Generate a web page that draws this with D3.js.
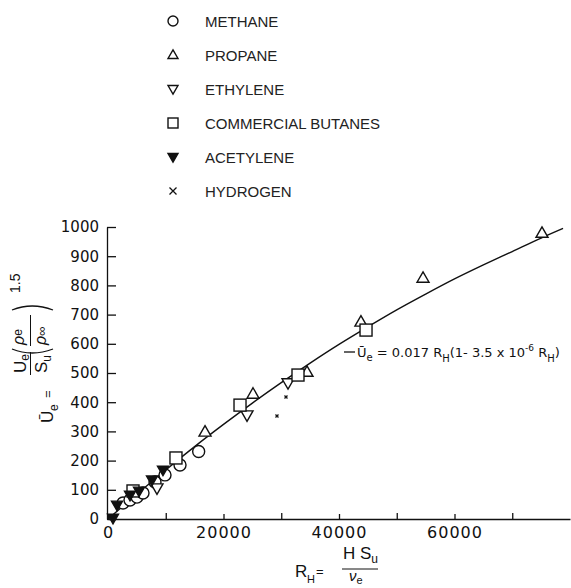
<!DOCTYPE html>
<html><head><meta charset="utf-8">
<script src="https://cdn.jsdelivr.net/npm/d3@7"></script>
<style>body{margin:0;background:#fff}</style>
</head><body>
<script>
// ---- data ----
const seriesNames = ["METHANE", "PROPANE", "ETHYLENE", "COMMERCIAL BUTANES", "ACETYLENE", "HYDROGEN"];
const methaneR = [2600, 3810, 5020, 6060, 8140, 9870, 12470, 15700];
const methaneU = [55, 65, 75, 89, 127, 151, 185, 231];
const propaneR = [16800, 25110, 34460, 43800, 54550, 75150];
const propaneU = [298, 428, 503, 675, 825, 979];
const ethyleneR = [8480, 24070, 31170];
const ethyleneU = [106, 356, 466];
const butanesR = [4330, 11770, 22860, 32900, 44680];
const butanesU = [96, 209, 390, 493, 647];
const acetyleneR = [866, 1560, 3810, 5370, 7620, 9520];
const acetyleneU = [3, 48, 82, 96, 134, 168];
const hydrogenR = [29260, 30820];
const hydrogenU = [353, 418];
const curveR = [0, 5000, 10000, 15000, 20000, 25000, 30000, 35000, 40000, 45000, 50000, 55000, 60000, 65000, 70000, 75000, 78800];
const curveU = [0, 85, 168, 248, 324, 397, 467, 534, 598, 658, 716, 770, 822, 870, 916, 962, 995];
const xMajorTicks = [0, 20000, 40000, 60000];
const xMinorTicks = [10000, 30000, 50000, 70000];
const yTicks = [0, 100, 200, 300, 400, 500, 600, 700, 800, 900, 1000];

const W = 571, H = 588, ink = "#111";
const svg = d3.select("body").append("svg").attr("width", W).attr("height", H)
  .style("font-family", "'Liberation Sans', Arial, sans-serif");

const x = d3.scaleLinear().domain([0, 80000]).range([108, 570]);
const y = d3.scaleLinear().domain([0, 1000]).range([519, 227]);

// axes
const gx = svg.append("g").attr("transform", `translate(0,${y(0)})`);
gx.call(d3.axisBottom(x).tickValues(xMajorTicks).tickSize(-5).tickSizeOuter(0).tickPadding(8).tickFormat(d3.format("d")));
const gx2 = svg.append("g").attr("transform", `translate(0,${y(0)})`);
gx2.call(d3.axisBottom(x).tickValues(xMinorTicks).tickSize(-6).tickSizeOuter(0).tickFormat(""));
gx2.select(".domain").remove();
gx.selectAll("text").style("font-family", "'DejaVu Sans', sans-serif").style("font-size", "16px").style("letter-spacing", "1px").attr("fill", ink);

const gy = svg.append("g").attr("transform", `translate(107,0)`);
gy.call(d3.axisLeft(y).tickValues(yTicks).tickSize(-9).tickSizeOuter(0).tickPadding(8).tickFormat(d3.format("d")));
gy.selectAll("text").style("font-family", "'DejaVu Sans', sans-serif").style("font-size", "15px").attr("fill", ink);
svg.selectAll(".domain, .tick line").attr("stroke", ink).attr("stroke-width", 1.3);

// curve
const curveData = curveR.map((r, i) => [r, curveU[i]]);
svg.append("path").datum(curveData)
  .attr("d", d3.line().x(d => x(d[0])).y(d => y(d[1])).curve(d3.curveCatmullRom))
  .attr("fill", "none").attr("stroke", ink).attr("stroke-width", 1.4);

// markers
function marker(sel, kind, s) {
  if (kind === "circle") return sel.append("circle").attr("r", s / 2).attr("fill", "#fff").attr("stroke", ink).attr("stroke-width", 1.4);
  if (kind === "square") return sel.append("rect").attr("x", -s / 2).attr("y", -s / 2).attr("width", s).attr("height", s).attr("fill", "#fff").attr("stroke", ink).attr("stroke-width", 1.4);
  const h = s * 0.87;
  if (kind === "up") return sel.append("path").attr("d", `M0,${-h * 0.6}L${s / 2},${h * 0.4}L${-s / 2},${h * 0.4}Z`).attr("fill", "#fff").attr("stroke", ink).attr("stroke-width", 1.4);
  if (kind === "down" || kind === "downFilled") return sel.append("path").attr("d", `M0,${h * 0.6}L${s / 2},${-h * 0.4}L${-s / 2},${-h * 0.4}Z`).attr("fill", kind === "downFilled" ? ink : "#fff").attr("stroke", ink).attr("stroke-width", 1.4);
  if (kind === "cross") return sel.append("path").attr("d", `M${-s / 2},${-s / 2}L${s / 2},${s / 2}M${s / 2},${-s / 2}L${-s / 2},${s / 2}`).attr("stroke", ink).attr("stroke-width", 1.3);
}
const series = [
  { r: methaneR, u: methaneU, kind: "circle", size: 12, lsize: 10 },
  { r: propaneR, u: propaneU, kind: "up", size: 12, lsize: 10 },
  { r: ethyleneR, u: ethyleneU, kind: "down", size: 12, lsize: 10 },
  { r: butanesR, u: butanesU, kind: "square", size: 12, lsize: 10 },
  { r: acetyleneR, u: acetyleneU, kind: "downFilled", size: 11, lsize: 10 },
  { r: hydrogenR, u: hydrogenU, kind: "cross", size: 3, lsize: 7 }
];
series.forEach(s => {
  s.r.forEach((r, i) => {
    const g = svg.append("g").attr("transform", `translate(${x(r)},${y(s.u[i])})`);
    marker(g, s.kind, s.size);
  });
});

// legend
const leg = svg.append("g");
series.forEach((s, i) => {
  const cy = 21 + i * 34;
  const g = leg.append("g").attr("transform", `translate(173,${cy})`);
  marker(g, s.kind, s.lsize);
  leg.append("text").attr("x", 205).attr("y", cy + 6).text(seriesNames[i])
    .style("font-size", "15px").attr("fill", "#222");
});

// equation annotation
svg.append("line").attr("x1", 344).attr("x2", 355).attr("y1", 352).attr("y2", 352).attr("stroke", ink).attr("stroke-width", 1.3);
const eq = svg.append("text").attr("x", 357).attr("y", 357).style("font-family", "'DejaVu Sans', sans-serif").style("font-size", "13px").attr("fill", ink);
eq.append("tspan").text("Ū");
eq.append("tspan").text("e").attr("dy", 4).style("font-size", "10px");
eq.append("tspan").text(" = 0.017 R").attr("dy", -4);
eq.append("tspan").text("H").attr("dy", 5).style("font-size", "10px");
eq.append("tspan").text("(1- 3.5 x 10").attr("dy", -5);
eq.append("tspan").text("-6").attr("dy", -6).style("font-size", "9px");
eq.append("tspan").text(" R").attr("dy", 6);
eq.append("tspan").text("H").attr("dy", 5).style("font-size", "10px");
eq.append("tspan").text(")").attr("dy", -5);

// x-axis title: R_H = H S_u / nu_e
const xt = svg.append("g").attr("fill", ink);
xt.append("text").attr("x", 295).attr("y", 577).text("R").style("font-size", "17px");
xt.append("text").attr("x", 307).attr("y", 583).text("H").style("font-size", "11px");
xt.append("text").attr("x", 316).attr("y", 576).text("=").style("font-size", "13px");
const num = xt.append("text").attr("x", 343).attr("y", 559).style("font-size", "17px");
num.append("tspan").text("H S");
num.append("tspan").text("u").attr("dy", 4).style("font-size", "12px");
xt.append("line").attr("x1", 342).attr("x2", 378).attr("y1", 569).attr("y2", 569).attr("stroke", ink).attr("stroke-width", 1);
const den = xt.append("text").attr("x", 349).attr("y", 581).style("font-size", "15px").style("font-style", "italic");
den.append("tspan").text("ν");
den.append("tspan").text("e").attr("dy", 3).style("font-size", "11px").style("font-style", "normal");

// y-axis title (rotated): U_e bar = U_e/S_u (rho_e/rho_inf)^1.5
const yt = svg.append("g").attr("transform", "rotate(-90)").attr("fill", ink);
yt.append("text").attr("x", -423).attr("y", 53).text("Ū").style("font-size", "17px");
yt.append("text").attr("x", -411).attr("y", 58).text("e").style("font-size", "12px");
yt.append("text").attr("x", -398).attr("y", 52).text("=").style("font-size", "13px");
const n1 = yt.append("text").attr("x", -373).attr("y", 26).style("font-size", "17px");
n1.append("tspan").text("U");
n1.append("tspan").text("e").attr("dy", 3).style("font-size", "12px");
yt.append("line").attr("x1", -375).attr("x2", -352).attr("y1", 30.5).attr("y2", 30.5).attr("stroke", ink).attr("stroke-width", 1);
const d1 = yt.append("text").attr("x", -373).attr("y", 47).style("font-size", "17px");
d1.append("tspan").text("S");
d1.append("tspan").text("u").attr("dy", 4).style("font-size", "12px");
yt.append("path").attr("d", "M-349,12Q-357,32,-349,53").attr("fill", "none").attr("stroke", ink).attr("stroke-width", 1.3);
yt.append("path").attr("d", "M-310,12Q-302,32,-310,53").attr("fill", "none").attr("stroke", ink).attr("stroke-width", 1.3);
const n2 = yt.append("text").attr("x", -345).attr("y", 24).style("font-size", "16px").style("font-style", "italic");
n2.append("tspan").text("ρ");
n2.append("tspan").text("e").attr("dy", -2).style("font-size", "12px").style("font-style", "normal");
yt.append("line").attr("x1", -346).attr("x2", -315).attr("y1", 30.5).attr("y2", 30.5).attr("stroke", ink).attr("stroke-width", 1);
const d2 = yt.append("text").attr("x", -345).attr("y", 46).style("font-size", "16px").style("font-style", "italic");
d2.append("tspan").text("ρ");
d2.append("tspan").text("∞").attr("dy", 0).style("font-size", "13px").style("font-style", "normal");
yt.append("text").attr("x", -293).attr("y", 20).text("1.5").style("font-size", "14px");
</script>
</body></html>
